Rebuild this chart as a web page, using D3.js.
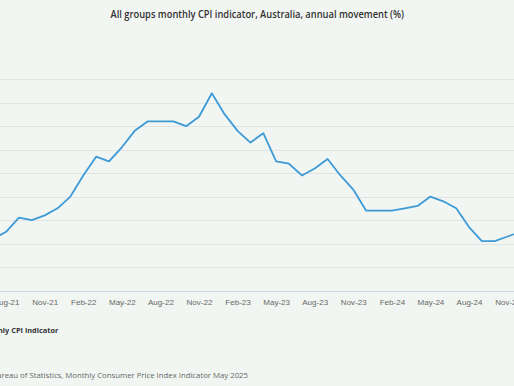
<!DOCTYPE html>
<html>
<head>
<meta charset="utf-8">
<script src="https://cdn.jsdelivr.net/npm/d3@7/dist/d3.min.js"></script>
<style>
  html, body { margin: 0; padding: 0; background: #f2f6f3; overflow: hidden; }
  svg { display: block; font-family: "Segoe UI", "Open Sans", "Noto Sans", sans-serif; }
</style>
</head>
<body>
<svg id="chart" width="514" height="386"></svg>
<script>
// ---- data ----
const months = ["Jul-21","Aug-21","Sep-21","Oct-21","Nov-21","Dec-21",
  "Jan-22","Feb-22","Mar-22","Apr-22","May-22","Jun-22","Jul-22","Aug-22","Sep-22","Oct-22","Nov-22","Dec-22",
  "Jan-23","Feb-23","Mar-23","Apr-23","May-23","Jun-23","Jul-23","Aug-23","Sep-23","Oct-23","Nov-23","Dec-23",
  "Jan-24","Feb-24","Mar-24","Apr-24","May-24","Jun-24","Jul-24","Aug-24","Sep-24","Oct-24","Nov-24","Dec-24",
  "Jan-25","Feb-25","Mar-25","Apr-25","May-25"];
const cpi = [2.2,2.5,3.1,3.0,3.2,3.5,
  4.0,4.9,5.7,5.5,6.1,6.8,7.2,7.2,7.2,7.0,7.4,8.4,
  7.5,6.8,6.3,6.7,5.5,5.4,4.9,5.2,5.6,4.9,4.3,3.4,
  3.4,3.4,3.5,3.6,4.0,3.8,3.5,2.7,2.1,2.1,2.3,2.5,
  2.5,2.4,2.4,2.4,2.1];
const tickLabels = ["Aug-21","Nov-21","Feb-22","May-22","Aug-22","Nov-22","Feb-23",
  "May-23","Aug-23","Nov-23","Feb-24","May-24","Aug-24","Nov-24","Feb-25","May-25"];
const yTicks = [0,1,2,3,4,5,6,7,8,9];
const titleText = "All groups monthly CPI indicator, Australia, annual movement (%)";
const seriesName = "All groups monthly CPI indicator";
const sourceText = "Source: Australian Bureau of Statistics, Monthly Consumer Price Index Indicator May 2025";

// ---- layout ----
const svg = d3.select("#chart");
const plotLeft = -60, plotRight = 580;

// width-fitting helper: scale font size so that `sub` spans `target` px
function fitSize(sub, base, weight, target) {
  const t = svg.append("text").attr("font-size", base + "px").attr("font-weight", weight).text(sub);
  const w = t.node().getComputedTextLength();
  t.remove();
  return base * target / w;
}

const idx = m => months.indexOf(m);
const x = d3.scaleLinear().domain([idx("Aug-21"), idx("Nov-24")]).range([6.1, 507.6]);
const y = d3.scaleLinear().domain([0, 9]).range([290.5, 79.2]);

// gridlines
svg.append("g").selectAll("line").data(yTicks.filter(d => d > 0)).join("line")
  .attr("x1", plotLeft).attr("x2", plotRight)
  .attr("y1", d => Math.round(y(d)) + 0.5).attr("y2", d => Math.round(y(d)) + 0.5)
  .attr("stroke", "#e1e4e2").attr("stroke-width", 1);

// x axis
const tickSize = fitSize("Nov-21", 10, 400, 26.7);
const xAxis = d3.axisBottom(x)
  .tickValues(tickLabels.map(idx).filter(i => i >= 0))
  .tickFormat(i => months[i])
  .tickSize(0).tickPadding(8);
const gx = svg.append("g").attr("transform", `translate(0,${Math.round(y(0)) + 0.5})`).call(xAxis);
gx.select(".domain").remove();
gx.append("line").attr("x1", plotLeft).attr("x2", plotRight).attr("stroke", "#ccd6eb").attr("stroke-width", 1);
gx.selectAll(".tick text").attr("fill", "#666").attr("font-size", tickSize + "px").attr("font-family", null);

// line
const line = d3.line().x((d, i) => x(i)).y(d => y(d));
svg.append("path").datum(cpi).attr("d", line)
  .attr("fill", "none").attr("stroke", "#3d9ad6").attr("stroke-width", 1.8)
  .attr("stroke-linejoin", "round").attr("stroke-linecap", "round");

// title
svg.append("text").attr("x", 257.3).attr("y", 17.6).attr("text-anchor", "middle")
  .attr("font-size", "10px").attr("font-weight", 600)
  .attr("textLength", 293.5).attr("lengthAdjust", "spacingAndGlyphs")
  .attr("fill", "#333").text(titleText);

// legend (its symbol lies left of the visible area)
svg.append("text").attr("x", 58.3).attr("y", 333.3).attr("text-anchor", "end")
  .attr("font-size", fitSize("ly CPI indicator", 10, 700, 55.5) + "px").attr("font-weight", 700)
  .attr("fill", "#333").text(seriesName);

// source
svg.append("text").attr("x", 248).attr("y", 377.8).attr("text-anchor", "end")
  .attr("font-size", fitSize("reau of Statistics, Monthly Consumer Price Index Indicator May 2025", 10, 400, 247) + "px")
  .attr("fill", "#666").text(sourceText);
</script>
</body>
</html>
